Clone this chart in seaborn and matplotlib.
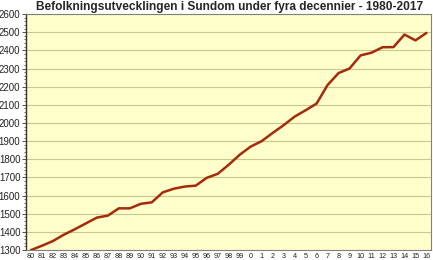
import matplotlib
matplotlib.use("Agg")
import matplotlib.pyplot as plt
import seaborn as sns
import pandas as pd
from matplotlib.ticker import MultipleLocator

year_labels = ["80", "81", "82", "83", "84", "85", "86", "87", "88", "89",
               "90", "91", "92", "93", "94", "95", "96", "97", "98", "99",
               "0", "1", "2", "3", "4", "5", "6", "7", "8", "9",
               "10", "11", "12", "13", "14", "15", "16"]
population = [1300, 1324, 1350, 1385, 1415, 1447, 1479, 1490, 1530, 1530,
              1555, 1563, 1618, 1638, 1650, 1655, 1698, 1720, 1770, 1825,
              1870, 1900, 1945, 1988, 2035, 2070, 2107, 2209, 2275, 2300,
              2372, 2387, 2417, 2418, 2487, 2455, 2496]
title = "Befolkningsutvecklingen i Sundom under fyra decennier - 1980-2017"

df = pd.DataFrame({"pos": range(len(year_labels)), "population": population})

sns.set_theme(style="white")
plt.rcParams["font.family"] = ["Liberation Sans", "DejaVu Sans"]

fig = plt.figure(figsize=(4.33, 2.6), dpi=100)
ax = fig.add_axes([0.060, 0.038, 0.935, 0.908])
ax.set_facecolor("#FFFFCC")

sns.lineplot(data=df, x="pos", y="population", ax=ax, color="#A52A0A",
             linewidth=1.8)

ax.set_ylim(1300, 2600)
ax.set_xlim(-0.45, len(year_labels) - 0.6)
ax.yaxis.set_major_locator(MultipleLocator(100))
ax.yaxis.set_minor_locator(MultipleLocator(20))
ax.grid(axis="y", which="major", color="#C8C88C", linewidth=0.8)
ax.set_axisbelow(True)

ax.set_xticks(list(range(len(year_labels))))
ax.set_xticklabels(year_labels, fontsize=5.2, color="#222222")
ax.tick_params(axis="y", which="major", labelsize=7, length=3, width=0.6,
               color="#333333", left=True, pad=1, labelcolor="#222222")
ax.tick_params(axis="y", which="minor", length=1.5, width=0.5,
               color="#333333", left=True)
ax.tick_params(axis="x", length=0, pad=2)
ax.set_xlabel("")
ax.set_ylabel("")

for side in ["top", "right", "bottom"]:
    ax.spines[side].set_color("#808080")
    ax.spines[side].set_linewidth(0.8)
ax.spines["left"].set_color("#333333")
ax.spines["left"].set_linewidth(1.0)

fig.suptitle(title, x=0.53, y=0.995, fontsize=8.6, fontweight="bold",
             va="top")

fig.savefig("out.png", dpi=100, facecolor="white")
